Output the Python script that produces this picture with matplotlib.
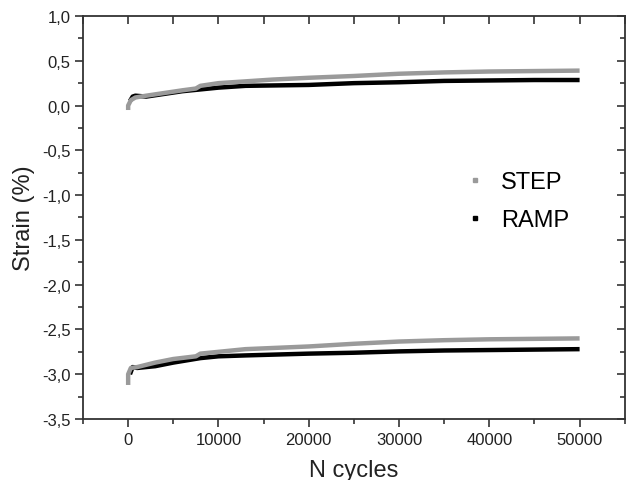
import matplotlib
matplotlib.use("Agg")
import matplotlib.pyplot as plt
from matplotlib.lines import Line2D
from matplotlib.ticker import MultipleLocator, FuncFormatter

plt.rcParams['font.family'] = ['Liberation Sans', 'DejaVu Sans']

# ---- data ----
n_step_top = [0, 0, 300, 800, 2000, 4000, 6000, 7500, 8000, 10000, 13000, 16000,
              20000, 25000, 30000, 35000, 40000, 45000, 50000]
step_top = [-0.05, 0.0, 0.06, 0.09, 0.11, 0.14, 0.17, 0.19, 0.22, 0.25, 0.27, 0.29,
            0.31, 0.33, 0.355, 0.37, 0.38, 0.385, 0.39]
n_ramp_top = [200, 500, 800, 2000, 4000, 6000, 8000, 10000, 13000, 20000, 25000,
              30000, 35000, 40000, 45000, 50000]
ramp_top = [0.05, 0.10, 0.11, 0.10, 0.13, 0.16, 0.18, 0.20, 0.22, 0.23, 0.25,
            0.26, 0.275, 0.28, 0.285, 0.285]

n_step_bot = [0, 0, 300, 1000, 3000, 5000, 7500, 8000, 10000, 13000, 20000, 25000,
              30000, 35000, 40000, 45000, 50000]
step_bot = [-3.12, -3.0, -2.93, -2.92, -2.87, -2.83, -2.80, -2.77, -2.75, -2.72,
            -2.69, -2.66, -2.635, -2.62, -2.61, -2.605, -2.60]
n_ramp_bot = [200, 500, 1000, 3000, 5000, 8000, 10000, 13000, 20000, 25000, 30000,
              35000, 40000, 45000, 50000]
ramp_bot = [-3.0, -2.92, -2.93, -2.91, -2.87, -2.82, -2.80, -2.79, -2.77, -2.76,
            -2.745, -2.735, -2.73, -2.725, -2.72]

labels = ["STEP", "RAMP"]
x_ticks = [0, 10000, 20000, 30000, 40000, 50000]
y_ticks = [1.0, 0.5, 0.0, -0.5, -1.0, -1.5, -2.0, -2.5, -3.0, -3.5]

step_color = "#9a9a9a"
ramp_color = "#000000"

fig = plt.figure(figsize=(6.26, 4.81), dpi=100)
ax = fig.add_axes([0.1326, 0.1268, 0.8654, 0.8379])

ax.plot(n_ramp_top, ramp_top, color=ramp_color, lw=3.2, solid_capstyle='butt')
ax.plot(n_ramp_bot, ramp_bot, color=ramp_color, lw=3.2, solid_capstyle='butt')
ax.plot(n_step_top, step_top, color=step_color, lw=3.2, solid_capstyle='butt')
ax.plot(n_step_bot, step_bot, color=step_color, lw=3.2, solid_capstyle='butt')

ax.set_xlim(-5000, 55000)
ax.set_ylim(-3.5, 1.0)
ax.set_xticks(x_ticks)
ax.set_yticks(y_ticks)
ax.xaxis.set_minor_locator(MultipleLocator(5000))
ax.yaxis.set_minor_locator(MultipleLocator(0.25))
ax.yaxis.set_major_formatter(FuncFormatter(lambda v, p: f"{v:.1f}".replace('.', ',')))
ax.xaxis.set_major_formatter(FuncFormatter(lambda v, p: f"{int(v)}"))

spine_col = "#333333"
for s in ax.spines.values():
    s.set_linewidth(1.3)
    s.set_color(spine_col)

ax.tick_params(which='major', direction='out', length=6, width=1.2, color=spine_col,
               labelsize=12, labelcolor="#222222", pad=3)
ax.tick_params(which='minor', direction='out', length=3.5, width=1.2, color=spine_col)

# mirrored inward ticks on top and right
secx = ax.secondary_xaxis('top')
secx.set_xticks(x_ticks)
secx.xaxis.set_minor_locator(MultipleLocator(5000))
secx.tick_params(which='both', direction='in', length=6, width=1.2, color=spine_col,
                 labeltop=False)
secx.spines['top'].set_visible(False)
secy = ax.secondary_yaxis('right')
secy.set_yticks(y_ticks)
secy.yaxis.set_minor_locator(MultipleLocator(0.25))
secy.tick_params(which='major', direction='in', length=6, width=1.2, color=spine_col,
                 labelright=False)
secy.tick_params(which='minor', direction='in', length=3.5, width=1.2, color=spine_col)
secy.spines['right'].set_visible(False)

ax.set_xlabel("N cycles", fontsize=17, color="#222222", labelpad=9)
ax.set_ylabel("Strain (%)", fontsize=17, color="#222222", labelpad=5)

handles = [Line2D([], [], ls='none', marker='s', ms=3.5, color=step_color),
           Line2D([], [], ls='none', marker='s', ms=3.5, color=ramp_color)]
ax.legend(handles, labels, loc='upper left', bbox_to_anchor=(0.663, 0.667),
          frameon=False, fontsize=17, handlelength=1.0, handletextpad=0.6,
          labelspacing=0.67)

fig.savefig("out.png", dpi=100)
